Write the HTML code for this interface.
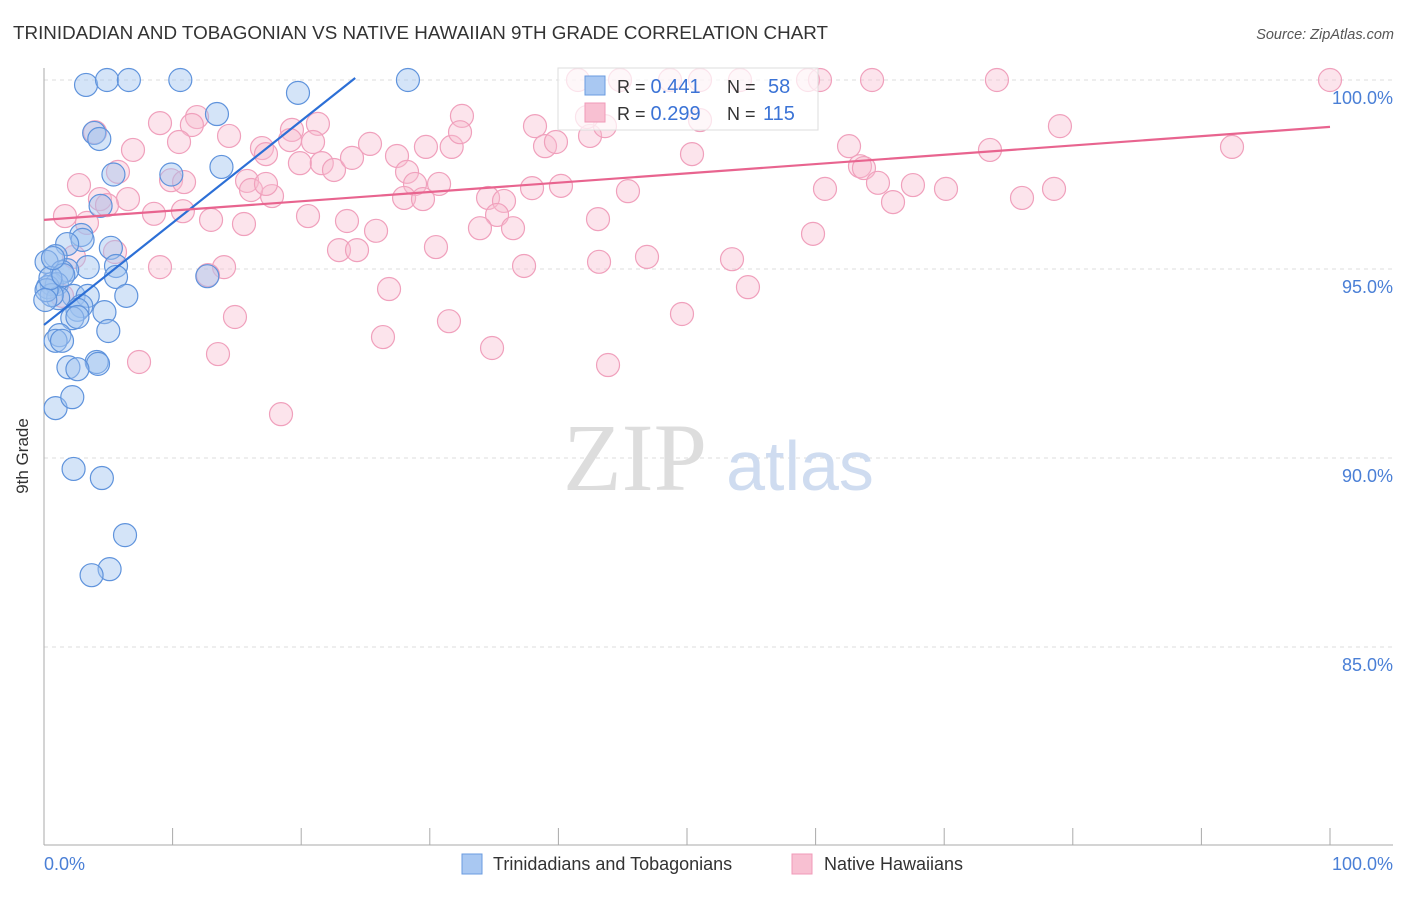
<!DOCTYPE html>
<html><head><meta charset="utf-8">
<style>
body{margin:0;background:#fff;font-family:"Liberation Sans",sans-serif;}
svg text{font-family:"Liberation Sans",sans-serif;}
</style></head>
<body>
<svg id="chart" width="1406" height="892" viewBox="0 0 1406 892">
<text x="13" y="39" font-size="18" fill="#333" textLength="815" lengthAdjust="spacingAndGlyphs">TRINIDADIAN AND TOBAGONIAN VS NATIVE HAWAIIAN 9TH GRADE CORRELATION CHART</text>
<text x="1394" y="39" font-size="14.5" fill="#555" text-anchor="end" font-style="italic">Source: ZipAtlas.com</text>
<g id="grid"></g>
<text x="635" y="490" font-size="96" fill="#ddd" text-anchor="middle" font-family="Liberation Serif" style="font-family:'Liberation Serif',serif">ZIP</text>
<text x="800" y="490" font-size="70" fill="#cfdcf0" text-anchor="middle">atlas</text>
<g id="pink"></g>
<g id="blue"></g>
<g id="lines"></g>
<text x="28" y="456" font-size="17" fill="#333" text-anchor="middle" transform="rotate(-90 28 456)">9th Grade</text>
<g id="ylabels"></g>
<text x="44" y="870" font-size="18" fill="#4a7fd6">0.0%</text>
<text x="1393" y="870" font-size="18" fill="#4a7fd6" text-anchor="end">100.0%</text>
<g>
<rect x="558" y="68" width="260" height="62" fill="rgba(255,255,255,0.7)" stroke="#ddd"/>
<rect x="585" y="76" width="20" height="19" fill="#a9c8f2" stroke="#6a9be0"/>
<rect x="585" y="103" width="20" height="19" fill="#f8c0d2" stroke="#f09ab8"/>
<text x="617" y="93" font-size="18" fill="#333">R = <tspan fill="#3b73d6" font-size="20">0.441</tspan><tspan x="727">N = </tspan><tspan x="768" fill="#3b73d6" font-size="20">58</tspan></text>
<text x="617" y="120" font-size="18" fill="#333">R = <tspan fill="#3b73d6" font-size="20">0.299</tspan><tspan x="727">N = </tspan><tspan x="763" fill="#3b73d6" font-size="20">115</tspan></text>
</g>
<g>
<rect x="462" y="854" width="20" height="20" fill="#a9c8f2" stroke="#6a9be0"/>
<text x="493" y="870" font-size="18" fill="#333">Trinidadians and Tobagonians</text>
<rect x="792" y="854" width="20" height="20" fill="#f8c0d2" stroke="#f09ab8"/>
<text x="824" y="870" font-size="18" fill="#333">Native Hawaiians</text>
</g>
</svg>
<script>
const yTicks=[100,95,90,85];
const xTicks=[0,10,20,30,40,50,60,70,80,90,100];
const blueX=[3.27,4.9,6.6,10.6,28.3,19.75,13.45,3.9,4.3,13.8,5.4,9.9,4.4,2.9,3.0,1.8,5.2,0.9,0.2,3.4,5.6,1.8,1.4,5.6,12.7,0.6,1.0,0.3,2.3,3.4,6.4,1.1,2.9,2.6,4.7,2.2,2.6,5.0,1.2,0.9,1.4,4.1,4.2,1.9,2.6,0.9,2.2,2.3,4.5,6.3,5.1,3.7,0.6,0.2,0.5,1.5,0.1,0.7];
const blueY=[99.87,100,100,100,100,99.66,99.1,98.6,98.44,97.7,97.5,97.5,96.67,95.9,95.77,95.66,95.56,95.34,95.19,95.05,95.08,94.97,94.92,94.79,94.81,94.6,94.6,94.52,94.29,94.29,94.29,94.23,94.02,93.92,93.86,93.7,93.73,93.36,93.25,93.1,93.1,92.54,92.49,92.4,92.35,91.32,91.61,89.71,89.47,87.96,87.06,86.9,94.31,94.44,94.76,94.84,94.18,95.29];
const pinkX=[3.97,9.88,10.89,9.02,11.9,11.5,14.39,10.5,6.92,5.75,2.72,4.35,6.53,4.9,1.63,3.34,8.55,10.8,12.99,15.55,2.33,9.02,14.0,12.75,5.52,1.4,14.85,13.53,7.39,18.43,16.95,17.26,19.28,21.3,19.13,20.92,19.9,21.6,22.55,23.95,25.35,27.45,28.23,29.7,31.7,32.5,32.35,28.85,30.72,28.0,29.47,20.53,23.56,25.82,30.48,22.94,24.34,26.83,26.36,31.49,34.84,37.33,43.16,46.89,43.86,38.18,38.96,39.81,42.46,43.62,41.52,44.79,48.68,51.01,54.12,59.41,60.34,64.39,74.1,100,34.53,35.77,37.95,40.2,45.41,35.23,33.9,36.47,43.08,50.39,53.5,54.74,49.61,59.8,60.73,62.6,63.45,63.76,64.85,66.02,67.57,70.14,73.56,76.05,78.54,79.0,92.38,15.79,17.73,16.1,17.26,42.22,51.01];
const pinkY=[98.62,97.35,97.3,98.86,99.02,98.81,98.52,98.36,98.15,97.57,97.22,96.85,96.85,96.69,96.4,96.22,96.46,96.53,96.3,96.19,95.32,95.05,95.05,94.84,95.45,94.29,93.73,92.75,92.54,91.16,98.2,98.04,98.68,98.84,98.41,98.36,97.8,97.8,97.62,97.94,98.31,97.99,97.57,98.23,98.23,99.05,98.62,97.25,97.25,96.88,96.85,96.4,96.27,96.01,95.58,95.5,95.5,94.47,93.2,93.62,92.91,95.08,95.19,95.32,92.46,98.78,98.25,98.36,98.52,98.78,100,100,100,100,100,100,100,100,100,100,96.88,96.8,97.14,97.2,97.06,96.43,96.08,96.08,96.32,98.04,95.26,94.52,93.81,95.93,97.12,98.25,97.72,97.67,97.28,96.77,97.22,97.12,98.15,96.88,97.12,98.78,98.23,97.33,96.93,97.09,97.25,99.02,98.94];
const blueLine=[93.52,100.27];
const pinkLine=[96.3,98.76];

const NS='http://www.w3.org/2000/svg';
const X=v=>44+v*12.86;
const Y=v=>80+(100-v)*37.8;
function mk(tag,attrs,parent){const e=document.createElementNS(NS,tag);for(const k in attrs)e.setAttribute(k,attrs[k]);parent.appendChild(e);return e;}
const grid=document.getElementById('grid');
yTicks.forEach(t=>{
  const l=mk('line',{x1:44,x2:1393,y1:Y(t),y2:Y(t),stroke:'#ddd','stroke-dasharray':'4,4'},grid);
  
  
  const tx=mk('text',{x:1393,y:Y(t)+24,'font-size':18,fill:'#4a7fd6','text-anchor':'end'},document.getElementById('ylabels'));
  tx.textContent=t.toFixed(1)+'%';
  
  
});
const ax=mk('line',{x1:44,x2:44,y1:68,y2:845,stroke:'#aaa'},grid);


const bx=mk('line',{x1:44,x2:1393,y1:845,y2:845,stroke:'#aaa'},grid);


xTicks.forEach(t=>{
  const l=mk('line',{x1:X(t),x2:X(t),y1:828,y2:845,stroke:'#aaa'},grid);
  
  
});
const pg=document.getElementById('pink');
pinkX.forEach((v,i)=>{
  const c=mk('circle',{cx:X(v),cy:Y(pinkY[i]),r:11.5,fill:'rgba(248,187,208,0.4)',stroke:'#f0a0bc','stroke-width':1.2},pg);
  
  
});
const bg=document.getElementById('blue');
blueX.forEach((v,i)=>{
  const c=mk('circle',{cx:X(v),cy:Y(blueY[i]),r:11.5,fill:'rgba(160,196,240,0.45)',stroke:'#5f93dc','stroke-width':1.2},bg);
  
  
});
const lg=document.getElementById('lines');
const bl=mk('line',{x1:X(0),y1:Y(blueLine[0]),x2:X(24.2),y2:Y(blueLine[0]+(blueLine[1]-blueLine[0])*24.2/25),stroke:'#2c6fd6','stroke-width':2.2},lg);


const pl=mk('line',{x1:X(0),y1:Y(pinkLine[0]),x2:X(100),y2:Y(pinkLine[1]),stroke:'#e8648f','stroke-width':2.2},lg);


</script>
</body></html>
